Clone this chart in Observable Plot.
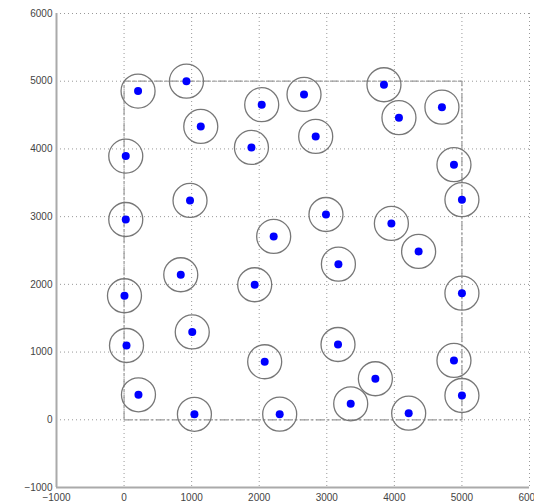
<!DOCTYPE html>
<html>
<head>
<meta charset="utf-8">
<script src="https://cdn.jsdelivr.net/npm/d3@7"></script>
<script src="https://cdn.jsdelivr.net/npm/@observablehq/plot@0.6"></script>
<style>
  html, body { margin: 0; padding: 0; background: #fff; }
  svg { display: block; }
</style>
</head>
<body>
<div id="chart"></div>
<script>
const xs = [207, 923, 1135, 25, 2037, 2663, 1885, 2836, 3846, 4068, 4704, 4882,
            976, 25, 839, 6, 2214, 2988, 3172, 1933, 1009, 5000, 3956, 4359, 5000,
            36, 213, 1041, 2081, 3166, 2303, 3354, 3719, 4212, 4882, 5000];
const ys = [4854, 5001, 4332, 3894, 4653, 4805, 4022, 4185, 4948, 4461, 4617, 3767,
            3239, 2958, 2142, 1832, 2708, 3032, 2298, 1994, 1297, 3250, 2900, 2486, 1870,
            1097, 369, 81, 857, 1112, 83, 236, 606, 97, 876, 359];
const ticks = [-1000, 0, 1000, 2000, 3000, 4000, 5000, 6000];
const boundaryX = [0, 5000, 5000, 0, 0];
const boundaryY = [0, 0, 5000, 5000, 0];

const pts = xs.map((x, i) => ({x, y: ys[i]}));
const boundary = boundaryX.map((x, i) => ({x, y: boundaryY[i]}));
const gridTicks = ticks.slice(1);
const fmt = d => d < 0 ? "\u2212" + Math.abs(d) : String(d);

const chart = Plot.plot({
  width: 534,
  height: 503,
  marginLeft: 56,
  marginRight: 5,
  marginTop: 13,
  marginBottom: 16,
  style: {fontFamily: "Liberation Sans, Arial, sans-serif", fontSize: "10px", color: "#444", background: "#fff"},
  x: {domain: [-1000, 6000], ticks: ticks, label: null},
  y: {domain: [-1000, 6000], ticks: ticks, label: null},
  marks: [
    Plot.ruleX(gridTicks, {stroke: "#999", strokeDasharray: "1,3", strokeWidth: 1}),
    Plot.ruleY(gridTicks, {stroke: "#999", strokeDasharray: "1,3", strokeWidth: 1}),
    Plot.line(boundary, {x: "x", y: "y", stroke: "#999", strokeWidth: 1.2, strokeDasharray: "8,3,2,3"}),
    Plot.ruleX([-1000], {stroke: "#aaa", strokeWidth: 2}),
    Plot.ruleY([-1000], {stroke: "#aaa", strokeWidth: 2}),
    Plot.axisX({ticks: ticks, tickSize: 0, tickPadding: 6, tickFormat: fmt, fill: "#444", label: null}),
    Plot.axisY({ticks: ticks, tickSize: 0, tickPadding: 4, tickFormat: fmt, fill: "#444", label: null}),
    Plot.dot(pts, {x: "x", y: "y", r: 17, stroke: "#777", strokeWidth: 1.3, fill: "none"}),
    Plot.dot(pts, {x: "x", y: "y", r: 4, fill: "#0000ff", stroke: "none"})
  ]
});
document.getElementById("chart").appendChild(chart);
</script>
</body>
</html>
